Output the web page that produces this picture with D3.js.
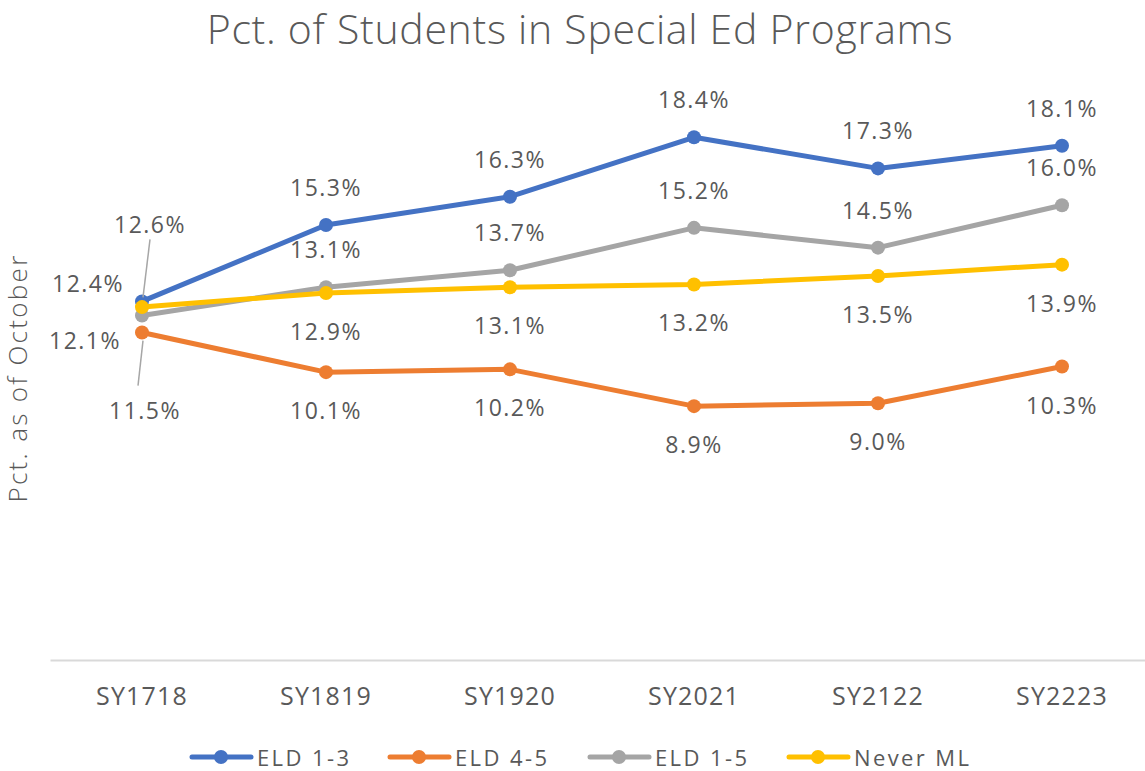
<!DOCTYPE html>
<html>
<head>
<meta charset="utf-8">
<script src="https://cdn.jsdelivr.net/npm/d3@7"></script>
<style>
  body { margin: 0; background: #fff; }
  text { font-family: "Open Sans", "Lato", sans-serif; fill: #595959; }
</style>
</head>
<body>
<div id="chart"></div>
<script>
// data
const years = ["SY1718", "SY1819", "SY1920", "SY2021", "SY2122", "SY2223"];
const seriesNames = ["ELD 1-3", "ELD 4-5", "ELD 1-5", "Never ML"];
const eld13 = [12.6, 15.3, 16.3, 18.4, 17.3, 18.1];
const eld45 = [11.5, 10.1, 10.2, 8.9, 9.0, 10.3];
const eld15 = [12.1, 13.1, 13.7, 15.2, 14.5, 16.0];
const neverML = [12.4, 12.9, 13.1, 13.2, 13.5, 13.9];

const colors = ["#4472C4", "#ED7D31", "#A5A5A5", "#FFC000"];
const series = [
    { name: seriesNames[0], values: eld13, color: colors[0], pos: -1 },
    { name: seriesNames[1], values: eld45, color: colors[1], pos: 1 },
    { name: seriesNames[2], values: eld15, color: colors[2], pos: -1 },
    { name: seriesNames[3], values: neverML, color: colors[3], pos: 1 }
];

const W = 1145, H = 771;
const svg = d3.select("#chart").append("svg")
    .attr("width", W)
    .attr("height", H);

const x = d3.scaleBand().domain(years).range([50, 1154]);
const y = d3.scaleLinear().domain([0, 20]).range([658, 92]);
const cx = d => x(d) + x.bandwidth() / 2;

// title
svg.append("text")
    .attr("x", 580).attr("y", 44)
    .attr("text-anchor", "middle")
    .style("font-size", "41px")
    .style("font-weight", 300)
    .style("letter-spacing", "0.7px")
    .text("Pct. of Students in Special Ed Programs");

// y label
svg.append("text")
    .attr("transform", "translate(27,378) rotate(-90)")
    .attr("text-anchor", "middle")
    .style("font-size", "26px")
    .style("font-weight", 300)
    .style("letter-spacing", "2.3px")
    .text("Pct. as of October");

// x axis
const xAxis = svg.append("g")
    .attr("transform", `translate(0,${y(0) + 2})`)
    .call(d3.axisBottom(x).tickSize(0));
xAxis.select(".domain").attr("stroke", "#d9d9d9").attr("stroke-width", 2);
xAxis.selectAll("text")
    .attr("y", 45)
    .attr("dy", 0)
    .style("font-size", "25px")
    .style("letter-spacing", "1.2px")
    .style("font-family", "\"Open Sans\", sans-serif")
    .attr("fill", "#595959");

// lines and markers
const line = d3.line().x((d, i) => cx(years[i])).y(d => y(d));
series.forEach(s => {
    svg.append("path")
        .datum(s.values)
        .attr("d", line)
        .attr("fill", "none")
        .attr("stroke", s.color)
        .attr("stroke-width", 5)
        .attr("stroke-linejoin", "round");
    svg.selectAll(null)
        .data(s.values)
        .enter()
        .append("circle")
        .attr("cx", (d, i) => cx(years[i]))
        .attr("cy", d => y(d))
        .attr("r", 7)
        .attr("fill", s.color);
});

// data labels (first category labels are moved off to the side)
const firstLabel = {
    "ELD 1-3": { dx: 8, dy: -77, leader: [[8, -62], [1, -4]] },
    "ELD 4-5": { dx: 3, dy: 77, leader: [[1, 8], [-4, 53]] },
    "ELD 1-5": { dx: -57, dy: 24 },
    "Never ML": { dx: -54, dy: -24 }
};
series.forEach(s => {
    s.values.forEach((v, i) => {
        let px = cx(years[i]), py = y(v);
        let lx = px, ly = py + s.pos * 38;
        if (i === 0) {
            const f = firstLabel[s.name];
            lx = px + f.dx;
            ly = py + f.dy;
            if (f.leader) {
                svg.append("line")
                    .attr("x1", px + f.leader[0][0]).attr("y1", py + f.leader[0][1])
                    .attr("x2", px + f.leader[1][0]).attr("y2", py + f.leader[1][1])
                    .attr("stroke", "#a6a6a6")
                    .attr("stroke-width", 1.5);
            }
        }
        svg.append("text")
            .attr("x", lx).attr("y", ly)
            .attr("text-anchor", "middle")
            .attr("dominant-baseline", "central")
            .style("font-size", "23px")
            .style("letter-spacing", "1.5px")
            .text(v.toFixed(1) + "%");
    });
});

// legend
const legendX = [190, 388, 588, 787];
const legend = svg.append("g").attr("transform", "translate(0,757)");
series.forEach((s, i) => {
    const g = legend.append("g").attr("transform", `translate(${legendX[i]},0)`);
    g.append("line")
        .attr("x1", 2).attr("x2", 61)
        .attr("stroke", s.color).attr("stroke-width", 5)
        .attr("stroke-linecap", "round");
    g.append("circle").attr("cx", 31).attr("r", 7).attr("fill", s.color);
    g.append("text")
        .attr("x", 67).attr("y", 0)
        .attr("dominant-baseline", "central")
        .style("font-size", "22px")
        .style("letter-spacing", "2.4px")
        .text(s.name);
});
</script>
</body>
</html>
